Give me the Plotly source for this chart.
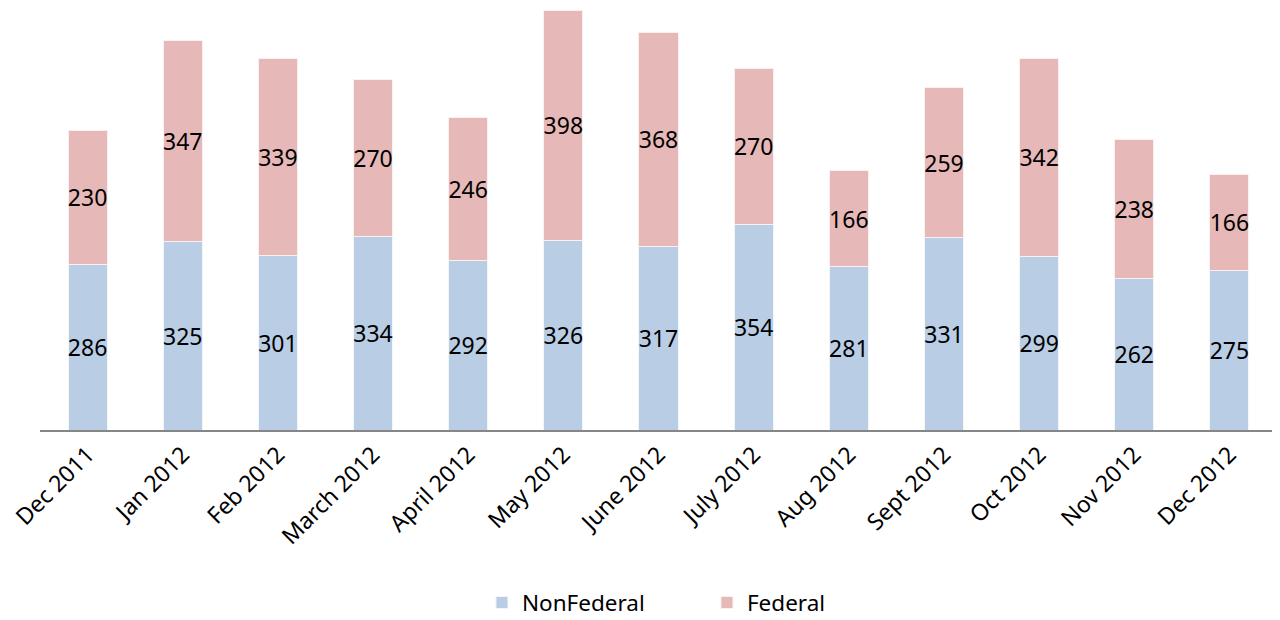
import plotly.graph_objects as go

months = ["Dec 2011", "Jan 2012", "Feb 2012", "March 2012", "April 2012", "May 2012",
          "June 2012", "July 2012", "Aug 2012", "Sept 2012", "Oct 2012", "Nov 2012", "Dec 2012"]
nonfederal = [286, 325, 301, 334, 292, 326, 317, 354, 281, 331, 299, 262, 275]
federal = [230, 347, 339, 270, 246, 398, 368, 270, 166, 259, 342, 238, 166]

FONT = "Noto Sans"

fig = go.Figure()
fig.add_trace(go.Bar(
    name="NonFederal", x=months, y=nonfederal, text=nonfederal,
    marker=dict(color="#B9CDE5", line=dict(color="#F2F5FA", width=1)),
    textposition="inside", insidetextanchor="middle", constraintext="none",
    textfont=dict(family=FONT, size=23, color="black"), textangle=0,
))
fig.add_trace(go.Bar(
    name="Federal", x=months, y=federal, text=federal,
    marker=dict(color="#E6B9B8", line=dict(color="#FAF0F0", width=1)),
    textposition="inside", insidetextanchor="middle", constraintext="none",
    textfont=dict(family=FONT, size=23, color="black"), textangle=0,
))

fig.update_layout(
    barmode="stack",
    bargap=0.59,
    width=1272, height=612,
    margin=dict(l=32, r=3, t=2, b=190),
    paper_bgcolor="white", plot_bgcolor="white",
    font=dict(family=FONT, color="black"),
    showlegend=True,
    legend=dict(orientation="h", xref="container", x=0.3726, xanchor="left",
                yref="container", y=0.028, yanchor="middle", traceorder="normal",
                font=dict(family=FONT, size=22.5, color="black"),
                entrywidth=180, entrywidthmode="pixels"),
    xaxis=dict(tickangle=-45, showline=True, linecolor="#868686", linewidth=2,
               ticks="", tickfont=dict(family=FONT, size=23, color="black"),
               showgrid=False, automargin=False),
    yaxis=dict(range=[0, 724], visible=False, showgrid=False, zeroline=False,
               automargin=False),
)

fig.write_html("out.html")
